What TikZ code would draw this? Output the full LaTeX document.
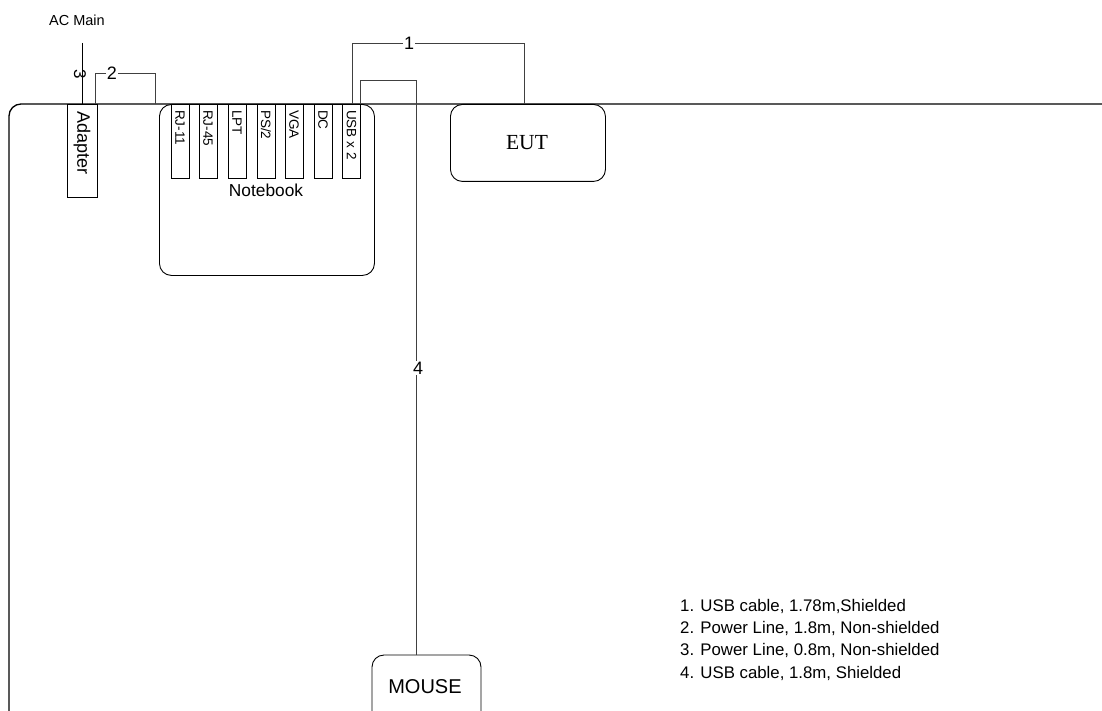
\documentclass[tikz,border=0pt]{standalone}
\usepackage{fontspec}
\setmainfont{Liberation Sans}
\newfontfamily\serifx{Liberation Serif}
\begin{document}
\begin{tikzpicture}[x=1pt,y=-1pt,
  box/.style={draw,line width=0.9pt,rounded corners=12pt},
  port/.style={draw,line width=0.8pt,minimum width=18pt,minimum height=74pt,anchor=north,inner sep=0pt},
  porttext/.style={rotate=-90,anchor=west,font=\fontsize{13.5}{14}\selectfont,inner sep=0pt},
  cable/.style={draw,line width=0.7pt,color=black!75},
  clabel/.style={fill=white,inner sep=1pt,font=\fontsize{18}{19}\selectfont},
  legend/.style={anchor=west,font=\fontsize{16.8}{18}\selectfont,inner sep=0pt}]
\useasboundingbox (0,0) rectangle (1102,711);
% table
\draw[line width=1.3pt] (9,711) -- (9,116) arc[start angle=180,end angle=90,radius=12pt] -- (1102,104);
% notebook
\node[box,minimum width=215pt,minimum height=171pt,anchor=north west,inner sep=0pt] (nb) at (159,104) {};
\node[font=\fontsize{17.3}{18}\selectfont] (nbl) at (266,190) {Notebook};
% ports
\node[port] (rj11) at (180,104) {}; \node[porttext] at (rj11.center|-0,110) {RJ-11};
\node[port] (rj45) at (208,104) {}; \node[porttext] at (rj45.center|-0,110) {RJ-45};
\node[port] (lpt) at (237,104) {}; \node[porttext] at (lpt.center|-0,110) {LPT};
\node[port] (ps2) at (266,104) {}; \node[porttext] at (ps2.center|-0,110) {PS/2};
\node[port] (vga) at (294,104) {}; \node[porttext] at (vga.center|-0,110) {VGA};
\node[port] (dc) at (323,104) {}; \node[porttext] at (dc.center|-0,110) {DC};
\node[port] (usb) at (351.5,104) {}; \node[porttext] at (usb.center|-0,110) {USB x 2};
% adapter
\node[draw,line width=0.9pt,minimum width=30pt,minimum height=93pt,anchor=north,inner sep=0pt] (ad) at (82,104) {};
\node[rotate=-90,anchor=west,inner sep=0pt,font=\fontsize{18}{19}\selectfont] at (82,111) {Adapter};
\node[font=\fontsize{14.5}{15}\selectfont] (ac) at (77,20) {AC Main};
\coordinate (acend) at (82,43);
\draw[line width=1pt] (acend) -- (ad.north);
\node[inner sep=0pt,rotate=-90,font=\fontsize{17}{18}\selectfont] at (80,74) {3};
% EUT
\node[box,minimum width=155pt,minimum height=77pt,anchor=north west,inner sep=0pt] (eut) at (450,104) {};
\node[font=\serifx\fontsize{21.5}{22}\selectfont] at (527,143) {EUT};
% mouse
\draw[line width=0.9pt] (372,711) -- (372,667) arc[start angle=180,end angle=90,radius=12pt] -- (469,655) arc[start angle=90,end angle=0,radius=12pt] -- (481,711);
\coordinate (mtop) at (416,655);
\node[font=\fontsize{20}{21}\selectfont] (mouse) at (425,687) {MOUSE};
% cables
\draw[cable] (95,104) -- (95,73) -- (155,73) -- (155,104);
\node[clabel] at (112,73) {2};
\draw[cable] (352,104) -- (352,43) -- (524,43) -- (524,104);
\node[clabel] at (409,43) {1};
\draw[cable] (360,104) -- (360,80) -- (416,80) -- (mtop);
\node[clabel] at (418,368) {4};
% legend
\node[legend] at (680,606) {1. USB cable, 1.78m,Shielded};
\node[legend] at (680,628) {2. Power Line, 1.8m, Non-shielded};
\node[legend] at (680,650) {3. Power Line, 0.8m, Non-shielded};
\node[legend] at (680,673) {4. USB cable, 1.8m, Shielded};
\end{tikzpicture}
\end{document}
